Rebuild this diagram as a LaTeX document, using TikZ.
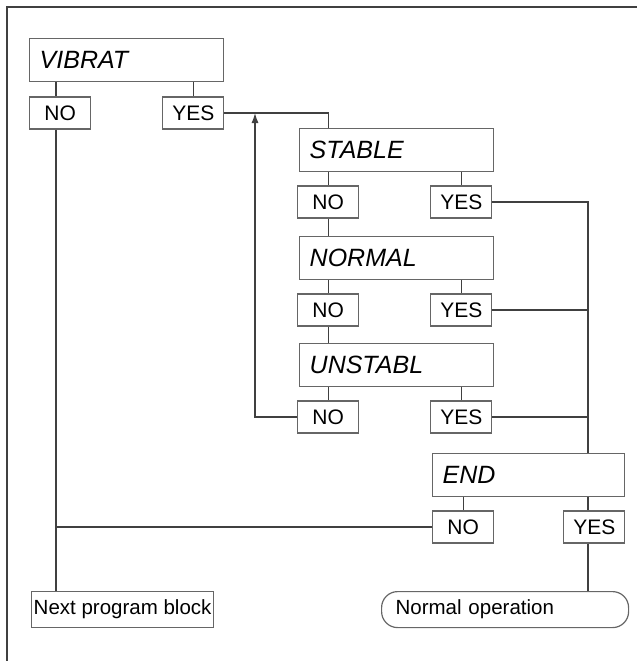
\documentclass[tikz,border=0pt]{standalone}
\usepackage{fontspec}
\setmainfont{Liberation Sans}
\usetikzlibrary{positioning,arrows.meta}

\begin{document}
\begin{tikzpicture}[
  x=1pt, y=-1pt,
  font=\fontsize{21}{25}\selectfont,
  query/.style   = {draw=black!60, line width=1.4pt, anchor=north west,
                    minimum height=43pt, text width=174pt, inner xsep=10pt,
                    align=left, font=\fontsize{25}{29}\selectfont\itshape},
  ans/.style     = {draw=black!60, line width=1.2pt, minimum width=61pt,
                    minimum height=32pt, inner sep=0pt},
  exitbox/.style = {draw=black!60, line width=1.2pt, anchor=north west,
                    minimum height=36pt, inner sep=0pt,
                    font=\fontsize{20.5}{24}\selectfont},
  ln/.style      = {draw=black!75, line width=1.2pt},
  ar/.style      = {ln, -{Latex[length=10pt, width=7pt]}}
]
\useasboundingbox (0,0) rectangle (637,661);

% ---- frame ----------------------------------------------------------------
\draw[black!75, line width=2pt] (7,661) -- (7,7) -- (637,7);

% ---- trunks ---------------------------------------------------------------
\coordinate (ltrunk) at (56,0);
\coordinate (rtrunk) at (588,0);
\coordinate (back)   at (255,0);

% ---- VIBRAT ---------------------------------------------------------------
\node[query] (vib) at (29,38) {VIBRAT};
\node[ans, below=14pt of vib.south west, anchor=north west] (vibno) {NO};
\node[ans, below=14pt of vib.south east, anchor=north east] (vibyes) {YES};

% ---- STABLE / NORMAL / UNSTABL --------------------------------------------
\node[query] (stab) at (299,128) {STABLE};
\node[ans, below=13pt of stab.south west, anchor=north west, xshift=-2pt] (stabno) {NO};
\node[ans, below=13pt of stab.south east, anchor=north east, xshift=-2pt] (stabyes) {YES};

\node[query] (norm) at (299,236) {NORMAL};
\node[ans, below=13pt of norm.south west, anchor=north west, xshift=-2pt] (normno) {NO};
\node[ans, below=13pt of norm.south east, anchor=north east, xshift=-2pt] (normyes) {YES};

\node[query] (unst) at (299,343) {UNSTABL};
\node[ans, below=13pt of unst.south west, anchor=north west, xshift=-2pt] (unstno) {NO};
\node[ans, below=13pt of unst.south east, anchor=north east, xshift=-2pt] (unstyes) {YES};

% ---- END ------------------------------------------------------------------
\node[query, text width=172pt] (end) at (432,453) {END};
\node[ans, below=13pt of end.south west, anchor=north west] (endno) {NO};
\node[ans, below=13pt of end.south east, anchor=north east] (endyes) {YES};

% ---- exits ----------------------------------------------------------------
\node[exitbox, minimum width=182pt] (next) at (31,591) {Next program block};
\node[exitbox, text width=219pt, inner xsep=14pt, align=left,
      rounded corners=16pt] (normop) at (381,591) {Normal operation};

% ---- connectors -----------------------------------------------------------
\draw[ln] (vib.south -| ltrunk) -- (vibno.north -| ltrunk);
\draw[ln] (vibno.south -| ltrunk) -- (next.north -| ltrunk);
\draw[ln] (vib.south -| vibyes.north) -- (vibyes.north);
\draw[ln] (vibyes.east) -| (stab.north -| stabno.north);

\draw[ln] (stab.south -| stabno.north) -- (stabno.north);
\draw[ln] (stab.south -| stabyes.north) -- (stabyes.north);
\draw[ln] (stabno.south) -- (norm.north -| stabno.south);
\draw[ln] (norm.south -| normno.north) -- (normno.north);
\draw[ln] (norm.south -| normyes.north) -- (normyes.north);
\draw[ln] (normno.south) -- (unst.north -| normno.south);
\draw[ln] (unst.south -| unstno.north) -- (unstno.north);
\draw[ln] (unst.south -| unstyes.north) -- (unstyes.north);

\draw[ar] (unstno.west) -| (vibyes.east -| back);

\draw[ln] (stabyes.east) -| (end.north -| rtrunk);
\draw[ln] (normyes.east) -- (normyes.east -| rtrunk);
\draw[ln] (unstyes.east) -- (unstyes.east -| rtrunk);

\draw[ln] (end.south -| endno.north) -- (endno.north);
\draw[ln] (end.south -| rtrunk) -- (endyes.north -| rtrunk);
\draw[ln] (endno.west) -- (endno.west -| ltrunk);
\draw[ln] (endyes.south -| rtrunk) -- (normop.north -| rtrunk);

\end{tikzpicture}
\end{document}
